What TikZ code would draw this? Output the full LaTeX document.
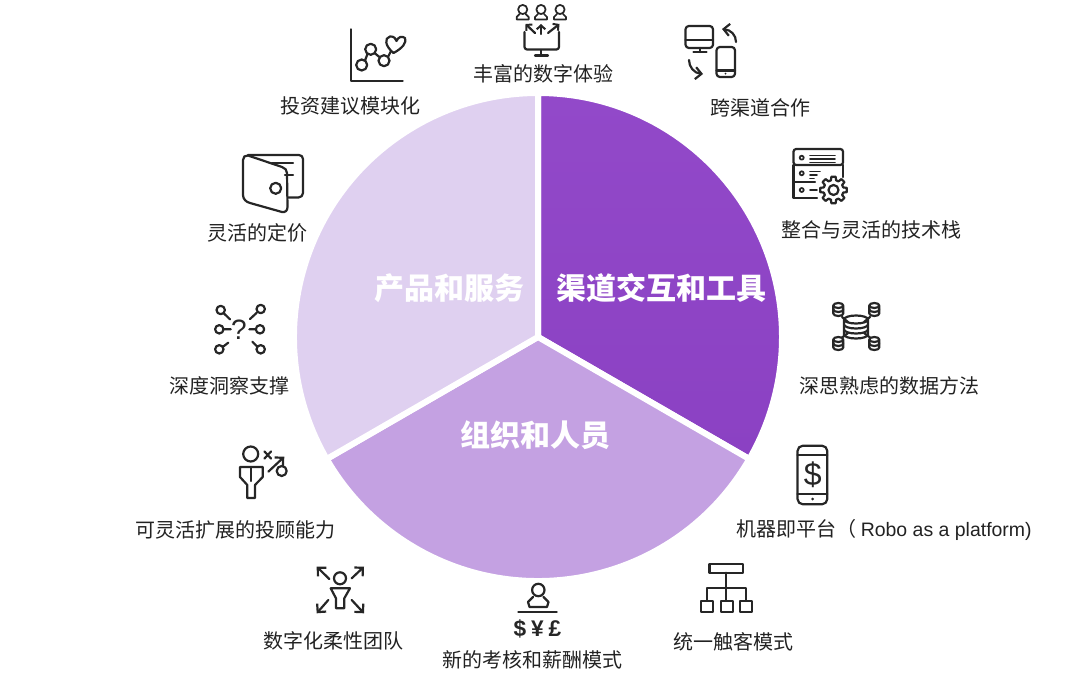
\documentclass[tikz,border=0pt]{standalone}
\usepackage{fontspec}
\setmainfont{Liberation Sans}
\newfontfamily\cjk{Noto Sans CJK SC}
\usetikzlibrary{arrows.meta}
\definecolor{inkc}{HTML}{262626}
\definecolor{txtc}{HTML}{222222}
\definecolor{secAt}{HTML}{9249C9}
\definecolor{secAb}{HTML}{8B41C3}
\definecolor{secB}{HTML}{C4A1E2}
\definecolor{secC}{HTML}{DFD0F0}
\tikzset{
  sector/.style={draw=white,line width=4.5pt,line join=miter},
  ink/.style={draw=inkc,line width=1.65pt,line cap=round,line join=round},
  thinink/.style={draw=inkc,line width=1.3pt,line cap=round,line join=round},
  arr/.style={ink,-{Straight Barb[length=4.5pt,width=9pt,line width=1.65pt]}},
  arrs/.style={ink,-{Straight Barb[length=3pt,width=6.5pt,line width=1.5pt]}},
  lab/.style={inner sep=0pt,text=txtc,font=\cjk\fontsize{15}{18}\selectfont},
  big/.style={inner sep=0pt,text=white,font=\cjk\bfseries\fontsize{22.5}{26}\selectfont},
  glyph/.style={inner sep=0pt,text=inkc,font=\bfseries\fontsize{#1}{#1}\selectfont},
}
\newcommand{\cyl}[5]{%
  \draw[ink,shift={(#1,#2)}] (0,0) ellipse[x radius=#3,y radius=#4]
    (-#3,0) -- (-#3,#5) arc[start angle=180,end angle=0,x radius=#3,y radius=#4] -- (#3,0);}
\begin{document}
\begin{tikzpicture}[x=0.75pt,y=-0.75pt]
\useasboundingbox (0,0) rectangle (1080,677);
\coordinate (c) at (538,337);
% sectors
\path[sector,top color=secAt,bottom color=secAb] (c) -- ++(-90:244) arc[start angle=-90,end angle=30,radius=244] -- cycle;
\path[sector,fill=secB] (c) -- ++(30:244) arc[start angle=30,end angle=150,radius=244] -- cycle;
\path[sector,fill=secC] (c) -- ++(150:244) arc[start angle=150,end angle=270,radius=244] -- cycle;
\node[big] (s1) at (661,288) {渠道交互和工具};
\node[big] (s2) at (535,435) {组织和人员};
\node[big] (s3) at (449,288) {产品和服务};
% labels
\node[lab] (l1) at (543,74) {丰富的数字体验};
\node[lab] (l2) at (760,108) {跨渠道合作};
\node[lab] (l3) at (871,230) {整合与灵活的技术栈};
\node[lab] (l4) at (889,386) {深思熟虑的数据方法};
\node[lab,anchor=west] (l5) at (736,530) {机器即平台（ {\rmfamily\fontsize{14.6}{18}\selectfont Robo as a platform)}};
\node[lab] (l6) at (733,642) {统一触客模式};
\node[lab] (l7) at (532,660) {新的考核和薪酬模式};
\node[lab] (l8) at (333,641) {数字化柔性团队};
\node[lab] (l9) at (235,530) {可灵活扩展的投顾能力};
\node[lab] (l10) at (229,386) {深度洞察支撑};
\node[lab] (l11) at (257.5,233) {灵活的定价};
\node[lab] (l12) at (350.5,106) {投资建议模块化};
% icon: rich digital experience
\foreach \x in {522.7,541,560}{
  \draw[thinink] (\x,9.5) circle[radius=4.6];
  \draw[thinink] (\x-3,14) -- (\x-6,17) -- (\x-6,19.5) -- (\x+6,19.5) -- (\x+6,17) -- (\x+3,14);
}
\draw[ink] (524.5,32) -- (524.5,47) arc[start angle=180,end angle=90,radius=2.5] -- (556.5,49.5) arc[start angle=90,end angle=0,radius=2.5] -- (559,32);
\draw[ink] (541,50) -- (541,55) (535,55.5) -- (548,55.5);
\draw[arrs] (541,34) -- (541,24);
\draw[arrs] (535,33) -- (525.5,24);
\draw[arrs] (548,33) -- (559.5,24);
% icon: cross channel
\draw[ink,rounded corners=2.5pt] (685.5,26) rectangle (713,48);
\draw[ink] (685.5,40) -- (713,40) (700,48) -- (700,52) (693.5,52) -- (706.5,52);
\draw[ink,rounded corners=2.5pt] (716.5,47) rectangle (735,77);
\draw[ink] (716.5,70.5) -- (735,70.5);
\fill[inkc] (725.5,73.7) circle[radius=1];
\draw[arr] (736,42) .. controls (736,35) and (731,30) .. (722,29);
\draw[arr] (689,60) .. controls (689,67) and (694,73) .. (703,74);
% icon: integrated tech stack
\draw[ink,rounded corners=2pt] (793.5,165) -- (793.5,149) -- (843,149) -- (843,165) -- cycle;
\draw[ink] (793.5,165) -- (793.5,198) -- (817,198);
\draw[ink] (843,165) -- (843,177);
\draw[ink] (793.5,182) -- (815,182);
\foreach \y in {157.7,173.3,190}{\draw[thinink] (801.7,\y) circle[radius=2];}
\draw[thinink] (810,155.5) -- (835,155.5) (810,159) -- (835,159) (810,162.5) -- (835,162.5);
\draw[thinink] (810,171.5) -- (820,171.5) (810,175) -- (817,175) (810,178.5) -- (814,178.5);
\draw[thinink] (810,190) -- (817,190);
\foreach \a in {0,45,...,315}{
  \draw[ink,shift={(833.5,190)}] (\a-15:10) -- (\a-9:13.5) -- (\a+9:13.5) -- (\a+15:10) arc[start angle=\a+15,end angle=\a+30,radius=10];
}
\draw[ink] (833.5,190) circle[radius=5];
% icon: data
\cyl{856}{319.5}{12}{4}{15}
\draw[ink] (844,324.5) arc[start angle=180,end angle=0,x radius=12,y radius=4];
\draw[ink] (844,329.5) arc[start angle=180,end angle=0,x radius=12,y radius=4];
\foreach \x/\y in {838.3/305.5,874.3/305.5,838.3/339.5,874.3/339.5}{
  \cyl{\x}{\y}{5}{2.5}{8}
  \draw[ink,shift={(\x,\y)}] (-5,4) arc[start angle=180,end angle=0,x radius=5,y radius=2.5];
}
\draw[ink] (842,317) -- (848,322) (870,317) -- (864,322) (842,337.5) -- (848,333) (870,337.5) -- (864,333);
% icon: robo phone
\draw[ink,rounded corners=4pt] (797.5,445.7) rectangle (827.3,504.3);
\draw[ink] (797.5,455) -- (827.3,455) (797.5,494) -- (827.3,494);
\fill[inkc] (812.7,499) circle[radius=1.5];
\node[inner sep=0pt,text=inkc,font=\fontsize{24}{24}\selectfont] (dollar) at (812.7,475) {\$};
% icon: hierarchy
\draw[ink] (709.5,564) rectangle (743.3,572.7);
\draw[ink] (725.7,572.7) -- (725.7,600.5) (706.7,600.5) -- (706.7,587.7) -- (746,587.7) -- (746,600.5);
\draw[ink] (700.7,600.7) rectangle (712.7,612.3) (720.7,600.7) rectangle (732.7,612.3) (740.2,600.7) rectangle (752.3,612.3);
% icon: pay models
\draw[ink] (538.3,590) circle[radius=6.2];
\draw[ink] (533,597) -- (528,602) -- (529.5,607) -- (547,607) -- (548.5,602) -- (543.5,597);
\draw[ink] (518.3,611.7) -- (556.7,611.7);
\node[glyph=17] (cur1) at (520,629) {\$};
\node[glyph=17] (cur2) at (537.3,629) {¥};
\node[glyph=17] (cur3) at (555,629) {£};
% icon: flexible team
\draw[ink] (340,578.3) circle[radius=6];
\draw[ink] (330.7,588.3) -- (350,588.3) -- (344.3,598.3) -- (344.3,608.3) -- (336,608.3) -- (336,598.3) -- cycle;
\draw[arr] (329.3,579) -- (316.7,566.7);
\draw[arr] (351.7,578.3) -- (364,566.7);
\draw[arr] (328.3,600) -- (316.7,613.3);
\draw[arr] (351.7,600) -- (364,613.3);
% icon: advisor
\draw[ink] (250.7,454) circle[radius=7.5];
\draw[ink] (240,467) -- (240,477) -- (247.3,485) -- (247.3,498) -- (255,498) -- (255,485) -- (262.7,477) -- (262.7,467) -- cycle;
\draw[ink] (251,467) -- (251,481);
\draw[ink] (264.5,451.5) -- (271,458.5) (271,451.5) -- (264.5,458.5);
\draw[arr] (268.3,471.7) -- (284.3,456.7);
\draw[ink] (281.7,471) circle[radius=5];
% icon: insight
\foreach \x/\y in {220.7/310,260.7/309,219.3/329.3,260/329.3,219.3/349.3,260.7/349.3}{
  \draw[ink] (\x,\y) circle[radius=4.2];
}
\draw[ink] (224,313.5) -- (230,319.3) (256.5,313) -- (250,319) (223.5,329.3) -- (230.7,329.3) (249.3,329.3) -- (255.8,329.3) (223,346.7) -- (228.3,342.7) (257,346.3) -- (252.3,341.7);
\node[inner sep=0pt,text=inkc,font=\fontsize{21}{21}\selectfont] (qm) at (239,330) {?};
% icon: wallet
\draw[ink] (248,155) -- (299,155) arc[start angle=-90,end angle=0,radius=4] -- (303,193) arc[start angle=0,end angle=90,radius=4.5] -- (288,197.5);
\draw[ink] (248,155.5) -- (282,167) .. controls (285,168) and (287,170) .. (287,173) -- (287.5,207) .. controls (287.5,211) and (285,212.5) .. (282,212) -- (250,203) .. controls (246,202) and (243,199) .. (243,195) -- (243,160) .. controls (243,157) and (245,155) .. (248,155.5) -- cycle;
\draw[ink] (275.7,188.3) circle[radius=5.5];
\draw[ink] (272,163) -- (293,163) (285,175) -- (293,175);
% icon: modular advice
\draw[ink] (350.7,29.3) -- (350.7,81) -- (402.7,81);
\draw[ink] (361.7,65) circle[radius=5.5] (370.7,49.3) circle[radius=5.5] (384,60.7) circle[radius=5.5];
\draw[ink] (365,60.5) -- (367.5,54) (374.5,53) -- (380,57.5) (388,57) -- (391,51);
\draw[ink] (393.5,53) .. controls (385,46) and (384,38) .. (390,36.5) .. controls (394,36) and (396,39) .. (396.5,41) .. controls (398,37) and (402,35.5) .. (405,38) .. controls (407,42) and (403,48) .. (393.5,53) -- cycle;
\end{tikzpicture}
\end{document}
